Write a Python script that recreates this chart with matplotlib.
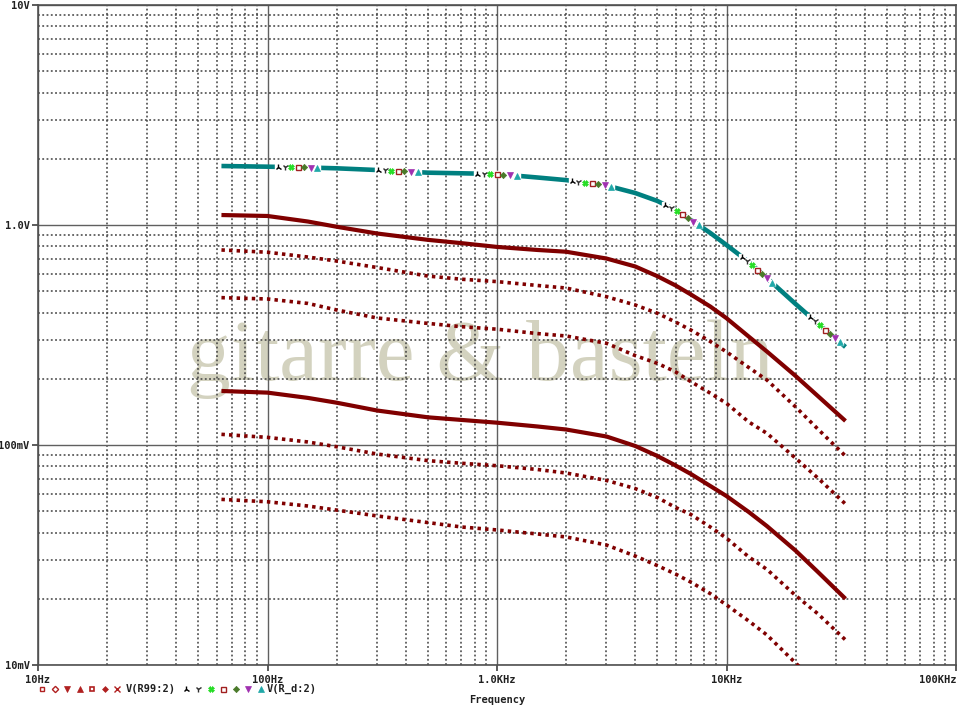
import numpy as np
import matplotlib
matplotlib.use('Agg')
import matplotlib.pyplot as plt
from matplotlib.lines import Line2D
from matplotlib.ticker import LogLocator, NullFormatter

# ---------------- data ----------------
freq_hz = [63, 100, 150, 200, 300, 500, 700, 1000, 1500, 2000, 3000, 4000, 5000,
           6000, 7000, 8500, 10000, 12500, 15000, 20000, 25000, 33000]

v_rd = [1.854, 1.841, 1.825, 1.810, 1.778, 1.729, 1.718, 1.705, 1.644, 1.60, 1.512,
        1.398, 1.286, 1.170, 1.054, 0.920, 0.811, 0.679, 0.574, 0.4375, 0.3566, 0.279]
v_r99_solid_hi = [1.110, 1.099, 1.037, 0.982, 0.915, 0.856, 0.827, 0.795, 0.770, 0.756,
                  0.704, 0.648, 0.585, 0.531, 0.483, 0.426, 0.377, 0.311, 0.266, 0.206,
                  0.167, 0.1286]
v_r99_dot_a = [0.770, 0.752, 0.715, 0.686, 0.641, 0.586, 0.567, 0.553, 0.531, 0.517,
               0.472, 0.433, 0.397, 0.362, 0.333, 0.2955, 0.265, 0.225, 0.1974, 0.149,
               0.1182, 0.0891]
v_r99_dot_b = [0.4675, 0.461, 0.440, 0.411, 0.378, 0.357, 0.345, 0.336, 0.321, 0.313,
               0.290, 0.255, 0.235, 0.215, 0.194, 0.172, 0.1546, 0.1273, 0.113, 0.0871,
               0.0708, 0.0539]
v_r99_solid_lo = [0.176, 0.173, 0.1637, 0.1557, 0.1435, 0.1336, 0.130, 0.1263, 0.1214,
                  0.1176, 0.1093, 0.0990, 0.0891, 0.0807, 0.0738, 0.0651, 0.0586, 0.0496,
                  0.0428, 0.0331, 0.0265, 0.0200]
v_r99_dot_c = [0.1118, 0.1083, 0.1032, 0.0982, 0.0910, 0.0849, 0.0826, 0.0805, 0.0774,
               0.0746, 0.069, 0.0634, 0.0577, 0.0520, 0.0483, 0.0424, 0.0377, 0.0310,
               0.0272, 0.0207, 0.0171, 0.0130]
v_r99_dot_d = [0.0566, 0.0552, 0.0528, 0.0506, 0.0476, 0.0444, 0.0424, 0.0411, 0.0394,
               0.0382, 0.0351, 0.0313, 0.0283, 0.0259, 0.0238, 0.0211, 0.01875, 0.01585,
               0.01369, 0.01021, 0.0082, 0.0062]

teal_group_start_hz = [111, 303, 818, 2120, 5400, 11700, 23100]

x_ticks = [10, 100, 1000, 10000, 100000]
x_tick_labels = ['10Hz', '100Hz', '1.0KHz', '10KHz', '100KHz']
y_ticks = [0.01, 0.1, 1, 10]
y_tick_labels = ['10mV', '100mV', '1.0V', '10V']

# ---------------- figure ----------------
W, H = 960, 706
fig = plt.figure(figsize=(W / 100, H / 100), dpi=100)
fig.patch.set_facecolor('white')
ax = fig.add_axes([38 / W, (H - 665) / H, (956 - 38) / W, 660 / H])
ax.set_xscale('log')
ax.set_yscale('log')
ax.set_xlim(10, 1e5)
ax.set_ylim(0.01, 10)

mono = dict(family='DejaVu Sans Mono', weight='bold', size=7.5, color='#202020')

ax.set_xticks(x_ticks, x_tick_labels)
ax.set_yticks(y_ticks, y_tick_labels)
ax.xaxis.set_minor_locator(LogLocator(base=10, subs=np.arange(2, 10)))
ax.yaxis.set_minor_locator(LogLocator(base=10, subs=np.arange(2, 10)))
ax.xaxis.set_minor_formatter(NullFormatter())
ax.yaxis.set_minor_formatter(NullFormatter())
ax.tick_params(which='major', direction='out', length=4, width=1.2, color='#404040', pad=2)
ax.tick_params(which='minor', length=0)
for lab in ax.get_xticklabels() + ax.get_yticklabels():
    lab.set_fontfamily('DejaVu Sans Mono')
    lab.set_fontweight('bold')
    lab.set_fontsize(7.5)
    lab.set_color('#202020')
ax.get_xticklabels()[-1].set_horizontalalignment('right')
ax.tick_params(axis='x', pad=3)

ax.set_axisbelow(True)
ax.grid(which='major', color='#606060', linewidth=1.0, linestyle='-')
ax.grid(which='minor', color='#404040', linewidth=1.1, linestyle=(0, (1.2, 1.6)))
for sp in ax.spines.values():
    sp.set_color('#505050')
    sp.set_linewidth(1.2)

# watermark
ax.text(187 / W, (H - 380) / H, 'gitarre & basteln', transform=fig.transFigure,
        fontsize=62.8, family='Liberation Serif', color='#d3d2bf',
        ha='left', va='baseline', zorder=0.2)

maroon = '#800000'
solid_kw = dict(color=maroon, linewidth=3.0, solid_capstyle='butt', zorder=3)
dot_kw = dict(color=maroon, linewidth=2.6, linestyle=(0, (0.95, 1.15)), dash_capstyle='butt', zorder=3)

ax.plot(freq_hz, v_r99_solid_hi, **solid_kw)
ax.plot(freq_hz, v_r99_dot_a, **dot_kw)
ax.plot(freq_hz, v_r99_dot_b, **dot_kw)
ax.plot(freq_hz, v_r99_solid_lo, **solid_kw)
ax.plot(freq_hz, v_r99_dot_c, **dot_kw)
ax.plot(freq_hz, v_r99_dot_d, **dot_kw)
ax.plot(freq_hz, v_rd, color='#008080', linewidth=3.3, solid_capstyle='butt', zorder=4)

# marker groups along the teal trace
group_markers = [
    dict(marker='2', color='#000000', mfc='none', ms=4.5, mew=1.0),
    dict(marker='1', color='#303030', mfc='none', ms=4.5, mew=1.0),
    dict(marker='X', color='#22dd22', mfc='#22dd22', ms=4, mew=0.5),
    dict(marker='s', color='#a02020', mfc='none', ms=3.6, mew=1.0),
    dict(marker='D', color='#4a7a2a', mfc='#4a7a2a', ms=3.2, mew=0.5),
    dict(marker='v', color='#a030b0', mfc='#a030b0', ms=4, mew=0.5),
    dict(marker='^', color='#20a8a8', mfc='#20a8a8', ms=4, mew=0.5),
]
fig.canvas.draw()
disp = ax.transData.transform(np.column_stack([freq_hz, v_rd]))
seg = np.hypot(np.diff(disp[:, 0]), np.diff(disp[:, 1]))
arc = np.concatenate([[0], np.cumsum(seg)])
inv = ax.transData.inverted()
step = 6.6
mk_positions = [[] for _ in group_markers]
for f0 in teal_group_start_hz:
    x0 = ax.transData.transform((f0, 1))[0]
    a0 = np.interp(x0, disp[:, 0], arc)
    for k in range(len(group_markers)):
        a = a0 + k * step
        px = np.interp(a, arc, disp[:, 0])
        py = np.interp(a, arc, disp[:, 1])
        mk_positions[k].append(inv.transform((px, py)))
all_pos = np.array([p for lst in mk_positions for p in lst])
ax.plot(all_pos[:, 0], all_pos[:, 1], linestyle='none', marker='s', ms=4.6,
        mfc='white', mec='white', zorder=5)
for spec, lst in zip(group_markers, mk_positions):
    arr = np.array(lst)
    ax.plot(arr[:, 0], arr[:, 1], linestyle='none', zorder=6, **spec)

# ---------------- legend row ----------------
ly = (H - 689) / H
leg1 = [
    dict(marker='s', color='#b02020', mfc='none', ms=3.5, mew=1.0),
    dict(marker='D', color='#b02020', mfc='none', ms=3.2, mew=1.0),
    dict(marker='v', color='#b02020', mfc='#b02020', ms=4, mew=0.5),
    dict(marker='^', color='#b02020', mfc='#b02020', ms=4, mew=0.5),
    dict(marker='s', color='#b02020', mfc='none', ms=3.5, mew=1.2),
    dict(marker='D', color='#b02020', mfc='#b02020', ms=3, mew=0.5),
    dict(marker='x', color='#b02020', ms=4, mew=1.0),
]
for i, spec in enumerate(leg1):
    fig.add_artist(Line2D([(42.3 + i * 12.5) / W], [ly], transform=fig.transFigure,
                          linestyle='none', **spec))
fig.text(126 / W, ly, 'V(R99:2)', ha='left', va='center', **mono)
for i, spec in enumerate(group_markers):
    fig.add_artist(Line2D([(185.7 + i * 12.55) / W], [ly], transform=fig.transFigure,
                          linestyle='none', **spec))
fig.text(266.5 / W, ly, 'V(R_d:2)', ha='left', va='center', **mono)
fig.text(497 / W, (H - 700) / H, 'Frequency', ha='center', va='center', **mono)

fig.savefig('out.png', dpi=100, facecolor='white')
